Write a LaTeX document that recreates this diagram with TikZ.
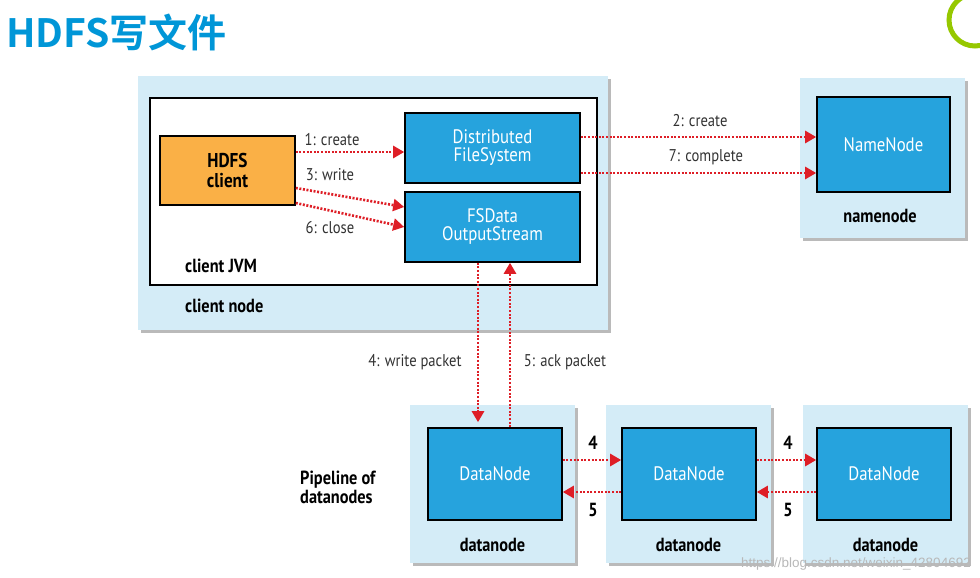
\documentclass[tikz,border=0pt]{standalone}
\usepackage{fontspec}
\setmainfont{PT Sans}[FakeStretch=0.86]
\newfontfamily\cjk{Noto Sans CJK SC}[BoldFont={* Bold}]
\newfontfamily\wmfont{Liberation Sans}
\usetikzlibrary{arrows.meta,shadows}
\definecolor{titleblue}{RGB}{0,150,215}
\definecolor{lightb}{RGB}{212,236,247}
\definecolor{boxblue}{RGB}{38,163,221}
\definecolor{orangebox}{RGB}{250,176,70}
\definecolor{arrred}{RGB}{222,30,38}
\definecolor{ringgreen}{RGB}{150,200,0}
\definecolor{labgray}{RGB}{50,50,50}
\begin{document}
\begin{tikzpicture}[x=1pt,y=-1pt,
  lightbox/.style={fill=lightb, draw=none, inner sep=0pt,
    drop shadow={shadow xshift=3pt, shadow yshift=-3pt, fill=black!45, opacity=.6}},
  jvmbox/.style={fill=white, draw=black, line width=1.6pt, inner sep=0pt},
  bluebox/.style={fill=boxblue, draw=black, line width=1.6pt, text=white, align=center, inner sep=0pt,
    font=\fontsize{19.5}{21}\selectfont},
  orangebx/.style={fill=orangebox, draw=black, line width=1.6pt, text=black, align=center, inner sep=0pt,
    font=\bfseries\fontsize{20}{22}\selectfont},
  boldlab/.style={text=black, inner sep=0pt, font=\bfseries\fontsize{19}{21}\selectfont},
  arrlab/.style={text=labgray, inner sep=0pt, font=\fontsize{17}{19}\selectfont},
  numlab/.style={text=black, inner sep=0pt, font=\bfseries\fontsize{19}{21}\selectfont},
  redarrow/.style={draw=arrred, line width=2.6pt, dash pattern=on 2pt off 1.6pt,
    -{Triangle[length=11pt,width=12pt]}}
]
\useasboundingbox (0,0) rectangle (980,578);

% title and decoration
\node[anchor=west, inner sep=0pt, text=titleblue, font=\cjk\bfseries\fontsize{39}{42}\selectfont] (title) at (6,32) {HDFS写文件};
\draw[ringgreen, line width=5pt] (975,20) circle (26);

% client node
\node[lightbox, minimum width=470pt, minimum height=254pt] (cn) at (373,203) {};
\node[jvmbox, minimum width=447pt, minimum height=187pt] (jvm) at (373.5,191.5) {};
\node[orangebx, minimum width=135pt, minimum height=69pt] (hc) at (227.5,170.5) {HDFS\\[-2pt]client};
\node[bluebox, minimum width=175pt, minimum height=70pt] (dfs) at (492.5,148) {Distributed\\[-3pt]FileSystem};
\node[bluebox, minimum width=175pt, minimum height=70pt] (fs) at (492.5,227) {FSData\\[-3pt]OutputStream};
\node[boldlab, anchor=west] (jvmlab) at (185,266) {client JVM};
\node[boldlab, anchor=west] (cnlab) at (185,306) {client node};

% namenode
\node[lightbox, minimum width=165pt, minimum height=160pt] (nnbox) at (882.5,158) {};
\node[bluebox, minimum width=133pt, minimum height=95pt] (nn) at (883.5,144.5) {NameNode};
\node[boldlab] (nnlab) at (880,216) {namenode};

% datanodes
\foreach \i/\cx/\bx in {1/492.5/495, 2/688.5/689, 3/885.5/884}{
  \node[lightbox, minimum width=165pt, minimum height=158pt] (dnbox\i) at (\cx,484) {};
  \node[bluebox, minimum width=134pt, minimum height=92pt] (dn\i) at (\bx,474) {DataNode};
  \node[boldlab] (dnlab\i) at (\cx,545) {datanode};
}
\node[boldlab, anchor=west, align=left] (pipe) at (300,487) {Pipeline of\\[-2pt]datanodes};

% client-internal arrows
\draw[redarrow] ([yshift=18.5pt]hc.east) -- ([yshift=-4pt]dfs.west);
\draw[redarrow] ([yshift=-17.5pt]hc.east) -- ([yshift=20pt]fs.west);
\draw[redarrow] ([yshift=-32.5pt]hc.east) -- (fs.west);
\node[arrlab] (l1) at (332,140) {1: create};
\node[arrlab] (l3) at (330,175) {3: write};
\node[arrlab] (l6) at (330,228) {6: close};

% namenode arrows
\coordinate (c2) at ([yshift=11pt]dfs.east);
\coordinate (c7) at ([yshift=-25pt]dfs.east);
\draw[redarrow] (c2) -- (c2 -| nn.west);
\draw[redarrow] (c7) -- (c7 -| nn.west);
\node[arrlab] (l2) at (700,121) {2: create};
\node[arrlab] (l7) at (706,157) {7: complete};

% write / ack packet
\coordinate (wp) at ([xshift=-14.5pt]fs.south);
\coordinate (ap) at ([xshift=17.5pt]fs.south);
\draw[redarrow, shorten >=5pt] (wp) -- (wp |- dn1.north);
\draw[redarrow] (ap |- dn1.north) -- (ap);
\node[arrlab] (l4) at (415,362) {4: write packet};
\node[arrlab] (l5) at (565,362) {5: ack packet};

% pipeline arrows
\foreach \a/\b in {1/2, 2/3}{
  \coordinate (f\a) at ([yshift=14pt]dn\a.east);
  \coordinate (r\a) at ([yshift=-18pt]dn\b.west);
  \draw[redarrow] (f\a) -- (f\a -| dn\b.west);
  \draw[redarrow] (r\a) -- (r\a -| dn\a.east);
}
\node[numlab] (n4a) at (593,443) {4};
\node[numlab] (n5a) at (593,510) {5};
\node[numlab] (n4b) at (788,443) {4};
\node[numlab] (n5b) at (788,510) {5};

% watermark
\node[anchor=east, inner sep=0pt, text=black!28, font=\wmfont\fontsize{13.5}{15}\selectfont] (wm) at (971,564) {https://blog.csdn.net/weixin\_42804692};
\end{tikzpicture}
\end{document}
